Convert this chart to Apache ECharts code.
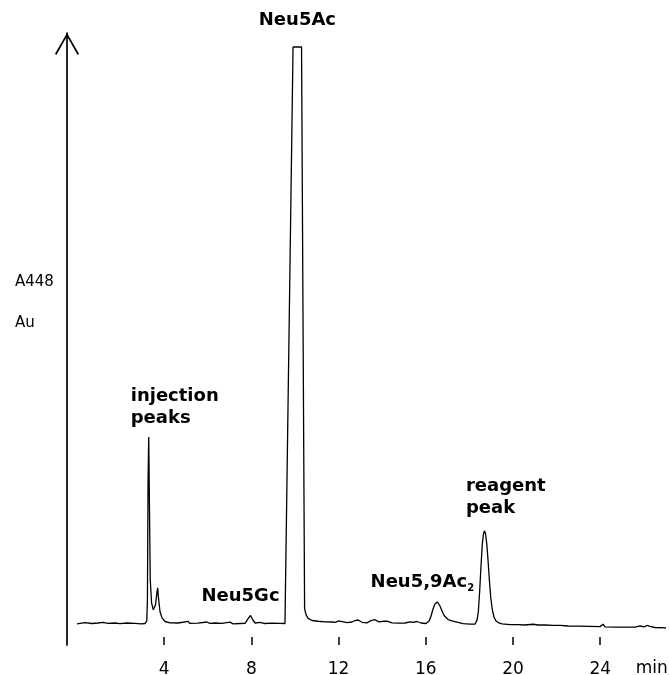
<!DOCTYPE html>
<html>
<head>
<meta charset="utf-8">
<script src="https://cdn.jsdelivr.net/npm/echarts@6/dist/echarts.min.js"></script>
<style>
  html, body { margin: 0; padding: 0; background: #ffffff; }
  #chart { width: 669px; height: 675px; }
</style>
</head>
<body>
<div id="chart"></div>
<script>
// Retention time (min) of each detector reading
const retentionTime = [
  0.00, 0.37, 0.69, 0.96, 1.19, 1.42, 1.74, 1.97, 2.29, 2.66, 2.94, 3.12,
  3.20, 3.23, 3.26, 3.29, 3.32, 3.36, 3.42, 3.50, 3.60, 3.67, 3.70, 3.74, 3.81, 3.90,
  4.04, 4.27, 4.63, 5.11, 5.16, 5.55, 5.95, 6.10, 6.33, 6.65, 7.02, 7.16, 7.48, 7.71,
  7.84, 7.96, 8.07, 8.17, 8.39, 8.62, 8.94, 9.31, 9.54,
  9.58, 9.91, 10.30, 10.44, 10.50, 10.60, 10.78, 11.06, 11.38, 11.70, 11.88, 11.99, 12.07,
  12.39, 12.61, 12.75, 12.89, 13.07, 13.30, 13.49, 13.67, 13.85, 14.04, 14.22, 14.45,
  14.72, 15.05, 15.28, 15.41, 15.60, 15.78,
  16.01, 16.15, 16.24, 16.32, 16.42, 16.48, 16.53, 16.59, 16.65, 16.72, 16.79, 16.86,
  16.93, 17.02, 17.11, 17.20, 17.29, 17.38, 17.48, 17.71, 18.03,
  18.26, 18.35, 18.41, 18.47, 18.53, 18.59, 18.64, 18.69, 18.74, 18.80, 18.86, 18.92,
  18.98, 19.05, 19.13, 19.22, 19.35, 19.50,
  19.86, 20.23, 20.32, 20.55, 20.92, 21.15, 21.47, 21.83, 22.16, 22.52, 22.98, 23.53,
  23.99, 24.13, 24.22, 24.68, 25.14, 25.60, 25.83, 26.01, 26.15, 26.28, 26.51, 27.02
];

// Absorbance at 448 nm (arbitrary units, Neu5Ac goes off scale at 100)
const absorbance = [
  -0.17, 0.05, -0.09, 0.00, 0.12, -0.05, 0.00, -0.10, 0.00, -0.07, -0.14, -0.09,
  0.35, 4.0, 24.8, 32.3, 21.4, 7.5, 3.5, 2.3, 3.1, 5.4, 6.1, 4.3, 1.9, 0.9,
  0.26, 0.03, 0.00, 0.30, -0.05, -0.03, 0.17, -0.07, 0.00, -0.05, 0.14, -0.14, -0.09, -0.05,
  0.70, 1.30, 0.52, 0.00, 0.10, -0.09, -0.03, -0.07, -0.09,
  0.17, 100, 100, 2.5, 1.5, 0.8, 0.43, 0.30, 0.20, 0.17, 0.12, 0.38, 0.09,
  0.05, 0.17, 0.43, 0.52, 0.12, 0.03, 0.43, 0.57, 0.20, 0.30, 0.31, 0.03,
  -0.03, 0.00, 0.20, 0.12, 0.26, 0.00,
  -0.09, 0.35, 1.2, 2.3, 3.3, 3.6, 3.65, 3.4, 2.95, 2.3, 1.7, 1.2,
  0.95, 0.60, 0.43, 0.38, 0.35, 0.20, 0.09, -0.12, -0.20,
  -0.17, 0.5, 2.0, 5.5, 9.8, 13.6, 15.4, 16.0, 15.5, 13.6, 10.6, 7.2,
  4.4, 2.3, 1.0, 0.35, 0.00, -0.17,
  -0.30, -0.28, -0.14, -0.35, -0.22, -0.35, -0.35, -0.43, -0.40, -0.52, -0.56, -0.60,
  -0.63, -0.22, -0.66, -0.70, -0.70, -0.73, -0.52, -0.66, -0.43, -0.60, -0.78, -0.83
];

// Labelled minutes on the time axis
const tickMinutes = [4, 8, 12, 16, 20, 24];

// Peak annotations and the retention time each one refers to
const peakNames = ['injection\npeaks', 'Neu5Gc', 'Neu5Ac', 'Neu5,9Ac{sub|2}', 'reagent\npeak'];
const peakTimes = [3.29, 7.96, 10.11, 16.53, 18.69];

const FONT = 'DejaVu Sans';
const INK = '#000000';

// Where each annotation sits relative to the top of its peak (pixels)
const peakLabelPlacement = [
  { align: 'left',   offset: [-18, -30] },
  { align: 'center', offset: [-10, -19.5] },
  { align: 'center', offset: [0, -27] },
  { align: 'center', offset: [-15, -20] },
  { align: 'left',   offset: [-18.5, -34] }
];

const trace = retentionTime.map((t, i) => [t, absorbance[i]]);

// Highest reading within a quarter minute of a retention time
function peakTop(t) {
  let top = -Infinity;
  retentionTime.forEach((x, i) => {
    if (Math.abs(x - t) <= 0.25 && absorbance[i] > top) top = absorbance[i];
  });
  return top;
}

const peakMarks = peakNames.map((name, i) => ({
  name: name,
  coord: [peakTimes[i], peakTop(peakTimes[i])],
  label: peakLabelPlacement[i]
}));

// Open chevron used as the arrow head of the absorbance axis
const chevron = 'path://M12,0 L24,20.8 L22.6,22 L12,3.2 L1.4,22 L0,20.8 Z';

const chart = echarts.init(document.getElementById('chart'), null, { renderer: 'canvas' });

chart.setOption({
  animation: false,
  backgroundColor: '#ffffff',
  grid: {
    left: 77,
    right: 1.2,
    top: 33,
    bottom: 30,
    containLabel: false,
    outerBoundsMode: 'none'
  },
  xAxis: {
    type: 'value',
    min: 0,
    max: 27.1,
    interval: 4,
    name: 'min',
    nameLocation: 'end',
    nameGap: -32,
    nameTextStyle: {
      color: INK,
      fontFamily: FONT,
      fontSize: 17,
      lineHeight: 48,
      align: 'left',
      verticalAlign: 'top'
    },
    // the time axis has no visible rule (drawn in the paper colour), only short ticks
    axisLine: { show: true, onZero: false, lineStyle: { color: '#ffffff', width: 1 } },
    axisTick: {
      show: true,
      inside: true,
      length: 8,
      customValues: tickMinutes,
      lineStyle: { color: INK, width: 1.5 }
    },
    axisLabel: {
      show: true,
      customValues: tickMinutes,
      margin: 16,
      color: INK,
      fontFamily: FONT,
      fontSize: 17,
      formatter: v => String(v)
    },
    splitLine: { show: false }
  },
  yAxis: {
    type: 'value',
    min: -3.82,
    max: 102.43,
    offset: 10,
    name: '{first|A448}\n{second|Au}',
    nameLocation: 'middle',
    nameRotate: 0,
    nameGap: 52,
    nameTextStyle: {
      color: INK,
      fontFamily: FONT,
      fontSize: 15,
      align: 'left',
      verticalAlign: 'bottom',
      rich: {
        first: { color: INK, fontFamily: FONT, fontSize: 15, lineHeight: 50 },
        second: { color: INK, fontFamily: FONT, fontSize: 15, lineHeight: 32 }
      }
    },
    axisLine: {
      show: true,
      onZero: false,
      symbol: ['none', chevron],
      symbolSize: [24, 22],
      symbolOffset: [0, -11],
      lineStyle: { color: INK, width: 1.7 }
    },
    axisTick: { show: false },
    axisLabel: { show: false },
    splitLine: { show: false }
  },
  series: [{
    type: 'line',
    data: trace,
    showSymbol: false,
    symbol: 'none',
    smooth: false,
    silent: true,
    lineStyle: { color: INK, width: 1.3 },
    markPoint: {
      silent: true,
      symbol: 'circle',
      symbolSize: 0,
      itemStyle: { color: 'transparent' },
      label: {
        show: true,
        position: 'inside',
        formatter: '{b}',
        color: INK,
        fontFamily: FONT,
        fontWeight: 'bold',
        fontSize: 18,
        lineHeight: 22,
        rich: {
          sub: {
            color: INK,
            fontFamily: FONT,
            fontWeight: 'bold',
            fontSize: 10,
            lineHeight: 14,
            verticalAlign: 'bottom'
          }
        }
      },
      data: peakMarks
    }
  }]
});
</script>
</body>
</html>
